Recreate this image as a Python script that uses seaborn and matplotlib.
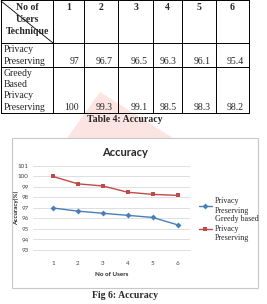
import numpy as np
import pandas as pd
import seaborn as sns
import matplotlib.pyplot as plt
from matplotlib.patches import Rectangle, Polygon

# Table / chart data
users = [1, 2, 3, 4, 5, 6]
privacy_preserving = [97, 96.7, 96.5, 96.3, 96.1, 95.4]
greedy_privacy = [100, 99.3, 99.1, 98.5, 98.3, 98.2]
pp_cells = ["97", "96.7", "96.5", "96.3", "96.1", "95.4"]
greedy_cells = ["100", "99.3", "99.1", "98.5", "98.3", "98.2"]
series_names = ["Privacy\nPreserving", "Greedy based\nPrivacy\nPreserving"]

W, H = 267, 304
sns.set_style("white")
fig = plt.figure(figsize=(W / 100, H / 100), dpi=100)
serif = "Liberation Serif"

# full page overlay in pixel coords
page = fig.add_axes([0, 0, 1, 1])
page.set_xlim(0, W)
page.set_ylim(H, 0)
page.axis("off")

# faint watermark
page.add_patch(Polygon([(55, 155), (100, 92), (200, 155)], closed=True,
                       color="#f4a6a0", alpha=0.3, lw=0, zorder=0))

# table grid
cols = [1, 53, 84, 118, 153, 182, 216, 249]
rows = [0, 43, 67, 113]
for x in cols:
    page.plot([x, x], [rows[0], rows[-1]], color="black", lw=0.7, zorder=2)
for y in rows:
    page.plot([cols[0], cols[-1]], [y, y], color="black", lw=0.7, zorder=2)
page.plot([cols[0], cols[1]], [1, rows[1]], color="black", lw=0.6, zorder=2)

for i, txt in enumerate(["No of", "Users", "Technique"]):
    page.text(27, 7 + i * 12, txt, family=serif, fontsize=7, fontweight="bold",
              ha="center", va="center")
for i, u in enumerate(users):
    page.text((cols[i + 1] + cols[i + 2]) / 2, 7, str(u), family=serif,
              fontsize=7, fontweight="bold", ha="center", va="center")

for i, txt in enumerate(["Privacy", "Preserving"]):
    page.text(4, 50 + i * 11.5, txt, family=serif, fontsize=7, va="center")
for i, txt in enumerate(["Greedy", "Based", "Privacy", "Preserving"]):
    page.text(4, 73 + i * 11.5, txt, family=serif, fontsize=7, va="center")
for i in range(6):
    page.text(cols[i + 2] - 5, 61.5, pp_cells[i], family=serif, fontsize=7,
              ha="right", va="center")
    page.text(cols[i + 2] - 5, 107.5, greedy_cells[i], family=serif, fontsize=7,
              ha="right", va="center")

page.text(125, 120, "Table 4: Accuracy", family=serif, fontsize=7,
          fontweight="bold", ha="center", va="center")

# chart frame
page.add_patch(Rectangle((12, 138), 246, 150, facecolor="white",
                         edgecolor="#c8c8c8", lw=0.8, zorder=3))
page.text(125, 152, "Accuracy", family="Lato", fontsize=8, fontweight="bold",
          ha="center", va="center", zorder=4)
page.text(16, 208, "Accuracy(%)", family="Lato", fontsize=4.5, fontweight="bold",
          rotation=90, ha="center", va="center", zorder=4)
page.text(112, 274, "No of Users", family="Lato", fontsize=4.5,
          fontweight="bold", ha="center", va="center", zorder=4)
page.text(125, 296, "Fig 6: Accuracy", family=serif, fontsize=7,
          fontweight="bold", ha="center", va="center")

# line chart
ax = fig.add_axes([33 / W, 1 - 250 / H, (190 - 33) / W, (250 - 166) / H])
ax.patch.set_alpha(0)
df = pd.DataFrame({
    "users": users * 2,
    "acc": privacy_preserving + greedy_privacy,
    "series": [series_names[0]] * 6 + [series_names[1]] * 6,
})
sns.lineplot(data=df, x="users", y="acc", hue="series", style="series",
             palette=["#4a7ebb", "#be4b48"], markers=["D", "s"], dashes=False,
             markersize=3, linewidth=1, markeredgewidth=0, ax=ax)
ax.set_xlim(0.2, 6.5)
ax.set_ylim(93, 101)
ax.set_yticks(np.arange(93, 102, 1))
ax.set_xticks(users)
ax.grid(axis="y", color="#d9d9d9", lw=0.6)
for s in ["top", "right", "left"]:
    ax.spines[s].set_visible(False)
ax.spines["bottom"].set_color("#d9d9d9")
ax.spines["bottom"].set_linewidth(0.6)
ax.tick_params(axis="both", labelsize=4.5, colors="#444444", length=0, pad=3)
ax.tick_params(axis="x", pad=8)
for lab in ax.get_xticklabels() + ax.get_yticklabels():
    lab.set_family("Lato")
ax.set_xlabel("")
ax.set_ylabel("")
leg = ax.legend(loc="center left", bbox_to_anchor=(1.03, 0.36), frameon=False,
                prop={"family": serif, "size": 5.8}, handlelength=1.6,
                handletextpad=0.4, labelspacing=0.1, borderpad=0)
for t in leg.get_texts():
    t.set_linespacing(1.25)

fig.savefig("out.png", dpi=100)
